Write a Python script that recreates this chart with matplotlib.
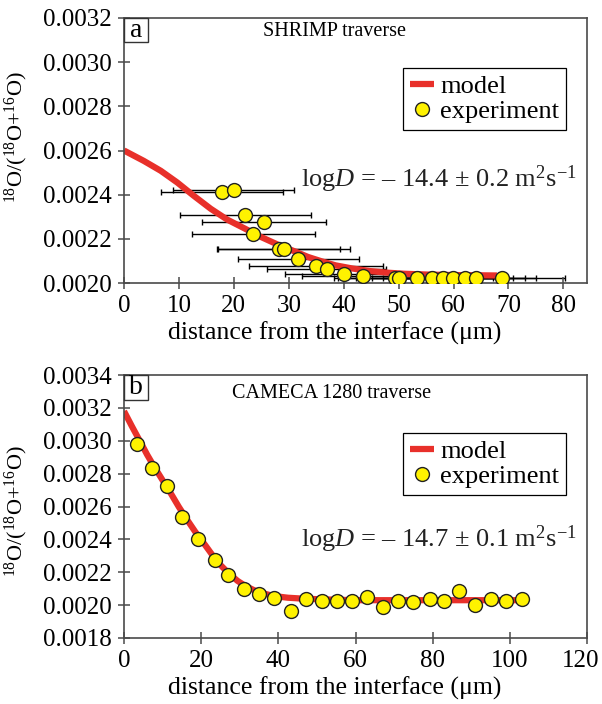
import numpy as np
import matplotlib
matplotlib.use("Agg")
import matplotlib.pyplot as plt
from matplotlib.patches import Rectangle
from matplotlib.transforms import ScaledTranslation

plt.rcParams['font.family'] = ['Liberation Serif', 'DejaVu Serif']
plt.rcParams['mathtext.fontset'] = 'custom'
plt.rcParams['mathtext.rm'] = 'Liberation Serif'
plt.rcParams['mathtext.it'] = 'Liberation Serif:italic'

# ---- Panel a: SHRIMP traverse ----
a_x = [17.9, 20.0, 22.1, 25.5, 23.5, 28.2, 29.1, 31.7, 35.0, 36.9, 40.1, 43.6,
       49.3, 50.0, 53.3, 56.1, 58.1, 59.9, 62.1, 64.0, 68.8]
a_y = [0.002414, 0.002421, 0.002310, 0.002278, 0.002222, 0.002154, 0.002154,
       0.002108, 0.002076, 0.002063, 0.002039, 0.002031,
       0.002024, 0.002024, 0.002024, 0.002024, 0.002021, 0.002021, 0.002024,
       0.002021, 0.002024]
a_xerr = [11.1, 11.0, 11.9, 11.3, 11.2, 11.2, 12.0, 11.0, 12.2, 10.8, 10.7, 11.2,
          11.0, 11.0, 11.0, 11.0, 11.0, 11.0, 11.0, 11.0, 11.5]
a_model_x = [0, 3.6, 6.7, 9.7, 12.7, 15.8, 18.8, 21.8, 24.8, 27.9, 30.9, 33.5,
             36.0, 38.5, 41.5, 44.8, 47.8, 50.9, 55.5, 60.0, 64.0, 67.9]
a_model_y = [0.002600, 0.002553, 0.002508, 0.002455, 0.002395, 0.002336, 0.002287,
             0.002249, 0.002210, 0.002175, 0.002145, 0.002118, 0.002098, 0.002080,
             0.002066, 0.002054, 0.002047, 0.002042, 0.002038, 0.002036, 0.002035,
             0.002034]

# ---- Panel b: CAMECA 1280 traverse ----
b_x = [3.3, 7.2, 11.1, 15.1, 19.3, 23.5, 27.0, 31.1, 35.1, 39.0, 43.2, 47.3, 51.2,
       55.1, 59.0, 63.1, 67.2, 71.1, 75.0, 79.3, 82.9, 86.9, 91.1, 95.0, 99.0, 103.2]
b_y = [0.002982, 0.002837, 0.002727, 0.002538, 0.002402, 0.002274, 0.002183,
       0.002098, 0.002067, 0.002043, 0.001965, 0.002037, 0.002026, 0.002024,
       0.002026, 0.002047, 0.001990, 0.002024, 0.002020, 0.002039, 0.002024,
       0.002085, 0.002002, 0.002037, 0.002026, 0.002039]
b_model_x = [0, 2.0, 4.3, 6.0, 7.8, 10.0, 12.1, 14.2, 16.4, 18.5, 20.7, 22.8, 25.0,
             27.2, 29.4, 31.5, 33.7, 36.3, 38.9, 42.5, 46.7, 53.0, 59.6, 77.0, 102.7]
b_model_y = [0.003180, 0.003090, 0.002990, 0.002915, 0.002843, 0.002760, 0.002681,
             0.002598, 0.002518, 0.002445, 0.002376, 0.002308, 0.002244, 0.002192,
             0.002148, 0.002116, 0.002091, 0.002070, 0.002055, 0.002045, 0.002039,
             0.002034, 0.002030, 0.002030, 0.002030]

RED = '#e8302a'
YELLOW = '#fff200'
SPINE = '#4a4a4a'

fig = plt.figure(figsize=(6.02, 7.04), dpi=100)
axA = fig.add_axes([124/602, 1-283/704, 463/602, 265/704])
axB = fig.add_axes([124/602, 1-638/704, 463/602, 263/704])

def style(ax, ylab_y):
    for s in ax.spines.values():
        s.set_color(SPINE)
        s.set_linewidth(1.2)
    ax.tick_params(direction='inout', length=9, width=1.1, color=SPINE,
                   labelsize=18, pad=4)
    ax.set_xlabel('distance from the interface (μm)', fontsize=18.5)
    ax.xaxis.set_label_coords(0.455, -0.145)
    ax.set_ylabel('$^{18}$O/($^{18}$O+$^{16}$O)', fontsize=16)
    ax.yaxis.set_label_coords(-0.203, ylab_y)

# Panel a
axA.plot(a_model_x, a_model_y, color=RED, lw=4.5, solid_capstyle='butt',
         label='model', zorder=2)
axA.errorbar(a_x, a_y, xerr=a_xerr, fmt='none', ecolor='black', elinewidth=1.0,
             capsize=2, capthick=1.0, zorder=1)
axA.plot(a_x, a_y, 'o', ms=10, mfc=YELLOW, mec='#222222', mew=1.0,
         label='experiment', zorder=3)
axA.set_xlim(0, 84.3)
axA.set_ylim(0.0020, 0.0032)
axA.set_xticks(np.arange(0, 81, 10))
axA.set_yticks(np.arange(0.0020, 0.00321, 0.0002))
axA.yaxis.set_major_formatter(matplotlib.ticker.FormatStrFormatter('%.4f'))
style(axA, 0.55)

# Panel b
axB.plot(b_model_x, b_model_y, color=RED, lw=4.5, solid_capstyle='butt',
         label='model', zorder=2)
axB.plot(b_x, b_y, 'o', ms=10, mfc=YELLOW, mec='#222222', mew=1.0,
         label='experiment', zorder=3)
axB.set_xlim(0, 120)
axB.set_ylim(0.0018, 0.0034)
axB.set_xticks(np.arange(0, 121, 20))
axB.set_yticks(np.arange(0.0018, 0.00341, 0.0002))
axB.yaxis.set_major_formatter(matplotlib.ticker.FormatStrFormatter('%.4f'))
style(axB, 0.483)
# nudge last x tick label so it stays inside the figure
fig.canvas.draw()
lbl = axB.get_xticklabels()[-1]
lbl.set_transform(lbl.get_transform() + ScaledTranslation(-6/100, 0, fig.dpi_scale_trans))

for ax, leg_y, ann_y, lab, title, tx, ty, by0 in [
        (axA, 0.811, 0.364, 'a', 'SHRIMP traverse', 0.30, 0.932, 0.909),
        (axB, 0.779, 0.346, 'b', 'CAMECA 1280 traverse', 0.233, 0.913, 0.905)]:
    leg = ax.legend(loc='upper left', bbox_to_anchor=(0.603, leg_y),
                    borderaxespad=0, fontsize=19, handlelength=0.9,
                    handletextpad=0.25, borderpad=0.25, labelspacing=0.05,
                    fancybox=False, edgecolor='black', framealpha=1)
    leg.get_frame().set_linewidth(0.9)
    ann = {'a': r'log$D$ = – 14.4 ± 0.2 m$^2$s$^{-1}$',
           'b': r'log$D$ = – 14.7 ± 0.1 m$^2$s$^{-1}$'}[lab]
    ax.text(0.978, ann_y, ann, transform=ax.transAxes, ha='right',
            va='baseline', fontsize=19, color='#222222')
    ax.text(tx, ty, title, transform=ax.transAxes, ha='left', va='baseline',
            fontsize=14.5)
    ax.add_patch(Rectangle((0.0, by0), 0.052, 1.0 - by0, transform=ax.transAxes,
                           fc='white', ec='#333333', lw=1.0, zorder=5,
                           clip_on=False))
    ax.text(0.026, (1.0 + by0) / 2, lab, transform=ax.transAxes, ha='center',
            va='center', fontsize=20, zorder=6)

fig.savefig('out.png', dpi=100)
